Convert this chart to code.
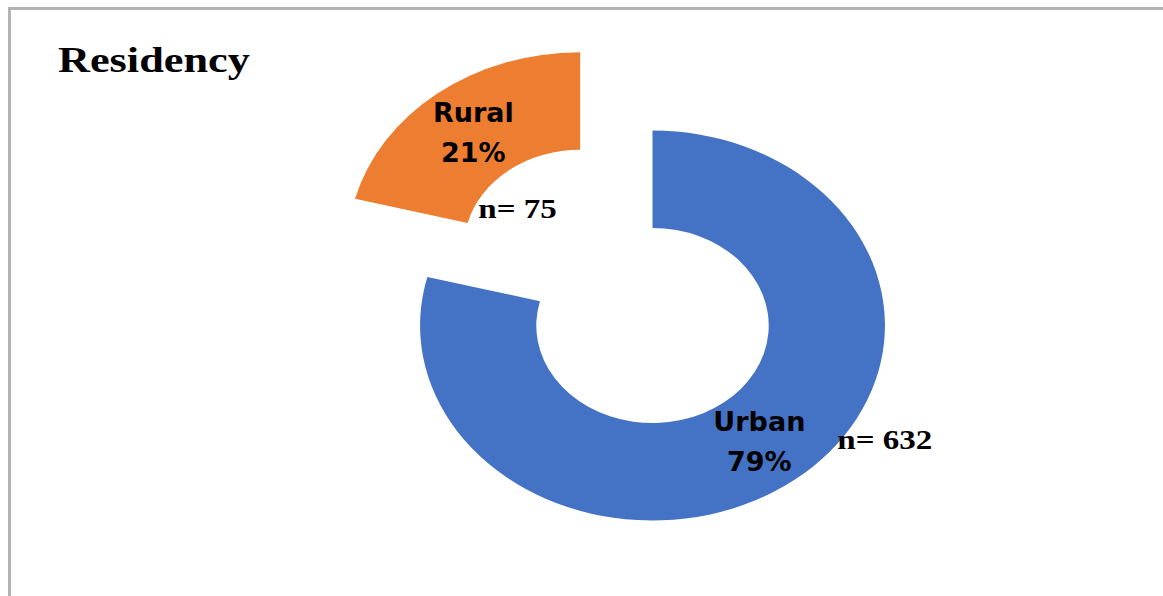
<!DOCTYPE html>
<html>
<head>
<meta charset="utf-8">
<script src="https://cdn.jsdelivr.net/npm/d3@7"></script>
<style>
  body { margin: 0; background: #fff; }
  .seg-label { font-family: 'DejaVu Sans', sans-serif; font-weight: bold; font-size: 27px; fill: #000; }
  .n-label { font-family: 'Liberation Serif', 'Times New Roman', serif; font-weight: bold; fill: #000; }
</style>
</head>
<body>
<div class="chart"></div>
<script>
const categories = ['Urban', 'Rural'];
const percents = [79, 21];
const counts = [632, 75];
const colors = ['#4472C4', '#ED7D31'];
const title = 'Residency';

const width = 1163;
const height = 596;
const cx = 652.5;
const cy = 325.5;
const sx = 1.192; // picture is stretched horizontally
const outerR = 195;
const innerR = 97.5;
const explode = [0, 99];
const nOffset = [[78, 8], [5, 86]];

const data = categories.map((c, i) => ({ name: c, pct: percents[i], n: counts[i], color: colors[i], explode: explode[i], nOff: nOffset[i] }));

const svg = d3
  .select('.chart')
  .append('svg')
  .attr('width', width)
  .attr('height', height);

// frame
svg
  .append('rect')
  .attr('x', 9.5)
  .attr('y', 8.5)
  .attr('width', width + 20)
  .attr('height', height + 20)
  .attr('fill', 'none')
  .attr('stroke', '#b3b3b3')
  .attr('stroke-width', 3);

svg
  .append('text')
  .attr('transform', 'translate(58,72) scale(1.23,1)')
  .attr('class', 'n-label')
  .style('font-size', '36px')
  .text(title);

const pie = d3
  .pie()
  .sort(null)
  .value(d => d.pct);

const arc = d3
  .arc()
  .innerRadius(innerR)
  .outerRadius(outerR);

const arcs = pie(data);

// offset for exploded slices, in unscaled units
const shift = d => {
  const mid = (d.startAngle + d.endAngle) / 2;
  return [Math.sin(mid) * d.data.explode, -Math.cos(mid) * d.data.explode];
};

svg
  .append('g')
  .attr('transform', `translate(${cx},${cy}) scale(${sx},1)`)
  .selectAll('path')
  .data(arcs)
  .enter()
  .append('path')
  .attr('transform', d => `translate(${shift(d)[0]},${shift(d)[1]})`)
  .attr('d', arc)
  .attr('fill', d => d.data.color);

// labels placed on the (stretched) centroid
const labelPos = d => {
  const c = arc.centroid(d);
  const s = shift(d);
  return [cx + (c[0] + s[0]) * sx, cy + c[1] + s[1]];
};

const labels = svg
  .append('g')
  .selectAll('g')
  .data(arcs)
  .enter()
  .append('g')
  .attr('transform', d => `translate(${labelPos(d)[0]},${labelPos(d)[1]})`);

labels
  .append('text')
  .attr('class', 'seg-label')
  .attr('text-anchor', 'middle')
  .attr('y', -10)
  .text(d => d.data.name);

labels
  .append('text')
  .attr('class', 'seg-label')
  .attr('text-anchor', 'middle')
  .attr('y', 30)
  .text(d => d.data.pct + '%');

labels
  .append('text')
  .attr('class', 'n-label')
  .style('font-size', '28px')
  .attr('transform', d => `translate(${d.data.nOff[0]},${d.data.nOff[1]}) scale(1.18,1)`)
  .text(d => 'n= ' + d.data.n);
</script>
</body>
</html>
